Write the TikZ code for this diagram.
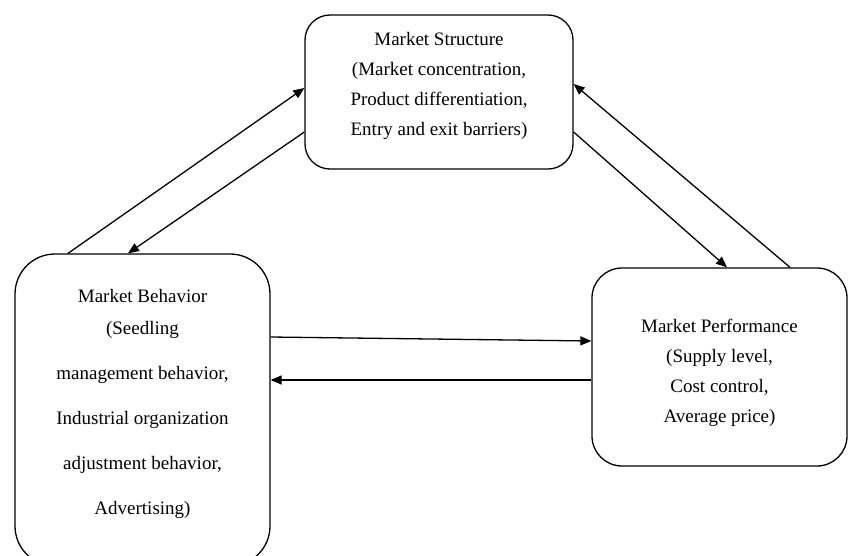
\documentclass[tikz,border=0pt]{standalone}
\usepackage{fontspec}
\setmainfont{Liberation Serif}
\usetikzlibrary{arrows.meta,positioning}
\tikzset{
  >={Triangle[length=11pt,width=9pt]},
  every picture/.style={line width=1.3pt},
  panel/.style={draw, rectangle, inner sep=0pt},
  paneltext/.style={align=center, inner sep=0pt, font=\fontsize{19}{30}\selectfont},
  link/.style={->, line width=1.3pt}
}
\begin{document}
\begin{tikzpicture}[x=1pt,y=-1pt]
  \useasboundingbox (0,0) rectangle (848,555);
  \clip (0,0) rectangle (848,555);

  % the three boxes
  \node[panel, rounded corners=25pt, minimum width=268pt, minimum height=154pt] (str) at (439,92) {};
  \node[panel, rounded corners=40pt, minimum width=255pt, minimum height=312pt] (beh) at (142.5,410) {};
  \node[panel, rounded corners=30pt, minimum width=255pt, minimum height=198pt] (perf) at (719.5,367) {};

  % box texts
  \node[paneltext] (strtxt) at ([yshift=6pt]str.center)
    {Market Structure\\(Market concentration,\\Product differentiation,\\Entry and exit barriers)};
  \node[paneltext] (behtxt) at ([yshift=6pt]beh.center)
    {Market Behavior\\[2pt](Seedling\\[15pt]management behavior,\\[15pt]Industrial organization\\[15pt]adjustment behavior,\\[15pt]Advertising)};
  \node[paneltext] (perftxt) at ([yshift=-6pt]perf.center)
    {Market Performance\\(Supply level,\\Cost control,\\Average price)};

  % feedback arrows
  \draw[link] ([xshift=-74.5pt]beh.north) -- ([yshift=4pt]str.west);
  \draw[link] ([yshift=-40pt]str.west) -- ([xshift=-14.5pt]beh.north);
  \draw[link] ([yshift=-40pt]str.east) -- ([xshift=7.5pt]perf.north);
  \draw[link] ([xshift=70.5pt]perf.north) -- ([yshift=8pt]str.east);
  \draw[link] ([yshift=73pt]beh.east) -- ([yshift=26pt]perf.west);
  \draw[link] ([yshift=-13pt]perf.west) -- ([yshift=30pt]beh.east);
\end{tikzpicture}
\end{document}
